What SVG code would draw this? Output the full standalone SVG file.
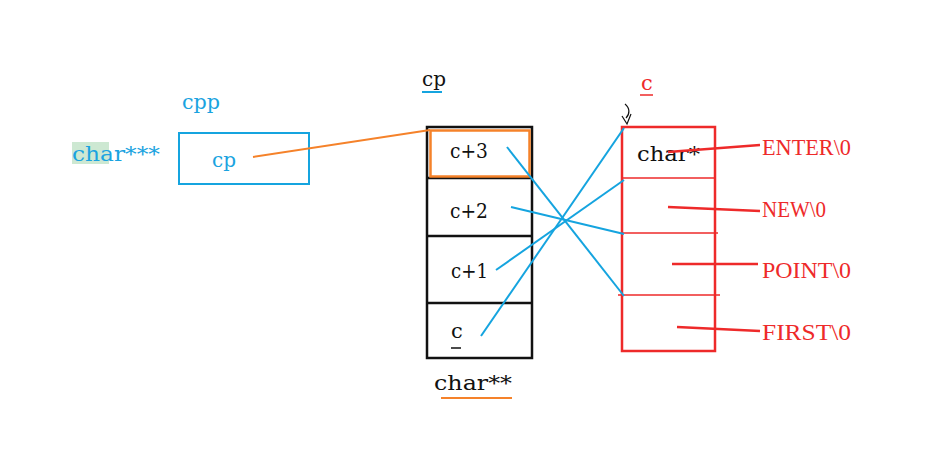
<svg xmlns="http://www.w3.org/2000/svg" width="934" height="461" viewBox="0 0 934 461">
<style>
.t{font-family:"DejaVu Serif","Liberation Serif",serif;font-size:21px}
.r{font-family:"Liberation Serif","DejaVu Serif",serif;font-size:24px}
.blue{fill:#1aa3e0}
.red{fill:#ee2a2a}
.blk{fill:#111}
.bl{stroke:#15a4df;stroke-width:2;fill:none}
.rl{stroke:#ee2a2a;stroke-width:2.5;fill:none}
.rt{stroke:#ee2a2a;stroke-width:1.3;fill:none}
.ol{stroke:#f5822a;stroke-width:2;fill:none}
.kl{stroke:#111;stroke-width:2.5;fill:none}
</style>
<rect width="934" height="461" fill="#fff"/>
<g id="cpp-node">
<text class="t blue" x="182" y="109" textLength="38" lengthAdjust="spacingAndGlyphs">cpp</text>
<rect x="72" y="142" width="37" height="22" fill="#cde8d2"/>
<text class="t blue" x="72" y="161" textLength="88" lengthAdjust="spacingAndGlyphs">char***</text>
<rect x="179" y="133" width="130" height="51" class="bl"/>
<text class="t blue" x="212" y="167" textLength="24" lengthAdjust="spacingAndGlyphs">cp</text>
</g>
<g id="cp-array">
<text class="t blk" x="422" y="86" textLength="24" lengthAdjust="spacingAndGlyphs">cp</text>
<line x1="422" y1="92" x2="442" y2="92" class="bl"/>
<rect x="427" y="127" width="105" height="231" class="kl"/>
<line x1="427" y1="178" x2="532" y2="178" class="kl"/>
<line x1="427" y1="236" x2="532" y2="236" class="kl"/>
<line x1="427" y1="303" x2="532" y2="303" class="kl"/>
<rect x="430.5" y="130.5" width="99" height="46" stroke="#f5822a" stroke-width="2.5" fill="none"/>
<text class="t blk" x="450" y="158" textLength="38" lengthAdjust="spacingAndGlyphs">c+3</text>
<text class="t blk" x="450" y="218" textLength="38" lengthAdjust="spacingAndGlyphs">c+2</text>
<text class="t blk" x="451" y="278" textLength="37" lengthAdjust="spacingAndGlyphs">c+1</text>
<text class="t blk" x="451" y="338">c</text>
<line x1="451" y1="348" x2="461" y2="348" stroke="#111" stroke-width="1.5"/>
<text class="t blk" x="434" y="390" textLength="78" lengthAdjust="spacingAndGlyphs">char**</text>
<line x1="441" y1="398" x2="512" y2="398" class="ol"/>
</g>
<g id="c-array">
<text class="t red" x="641" y="90">c</text>
<line x1="640" y1="95" x2="653" y2="95" stroke="#ee2a2a" stroke-width="1.5"/>
<path d="M625,104 C630,108 630,114 626,118 M622,116 L627,124 L631,114" stroke="#111" stroke-width="1.2" fill="none"/>
<rect x="622" y="127" width="93" height="224" class="rl"/>
<line x1="622" y1="178" x2="715" y2="178" class="rt"/>
<line x1="622" y1="233" x2="718" y2="233" class="rt"/>
<line x1="618" y1="295" x2="720" y2="295" class="rt"/>
<text class="t blk" x="637" y="161" textLength="63" lengthAdjust="spacingAndGlyphs">char*</text>
</g>
<g id="strings">
<text class="r red" x="762" y="155" textLength="89" lengthAdjust="spacingAndGlyphs">ENTER\0</text>
<text class="r red" x="762" y="217" textLength="64" lengthAdjust="spacingAndGlyphs">NEW\0</text>
<text class="r red" x="762" y="278" textLength="89" lengthAdjust="spacingAndGlyphs">POINT\0</text>
<text class="r red" x="762" y="340" textLength="89" lengthAdjust="spacingAndGlyphs">FIRST\0</text>
</g>
<g id="connectors">
<line x1="253" y1="157" x2="430" y2="130" class="ol"/>
<line x1="507" y1="147" x2="624" y2="296" class="bl"/>
<line x1="511" y1="207" x2="624" y2="234" class="bl"/>
<line x1="496" y1="270" x2="624" y2="180" class="bl"/>
<line x1="481" y1="336" x2="624" y2="128" class="bl"/>
<line x1="668" y1="152" x2="760" y2="145" class="rl"/>
<line x1="668" y1="207" x2="760" y2="211" class="rl"/>
<line x1="672" y1="264" x2="758" y2="264" class="rl"/>
<line x1="677" y1="327" x2="760" y2="331" class="rl"/>
</g>
</svg>
